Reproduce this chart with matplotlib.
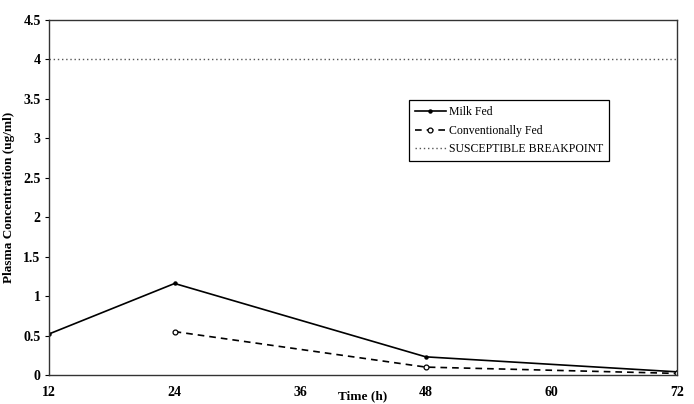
import matplotlib.pyplot as plt

# values
time_milk = [12, 24, 48, 72]
conc_milk = [0.52, 1.16, 0.23, 0.04]
time_conv = [24, 48, 72]
conc_conv = [0.55, 0.10, 0.02]
breakpoint_x = [12, 72]
breakpoint_y = [4, 4]
x_ticks = [12, 24, 36, 48, 60, 72]
y_ticks = [0, 0.5, 1, 1.5, 2, 2.5, 3, 3.5, 4, 4.5]

plt.rcParams["font.family"] = ["Liberation Serif", "DejaVu Serif"]

fig = plt.figure(figsize=(6.94, 4.04), dpi=100)
ax = fig.add_axes([0.0706, 0.0718, 0.9049, 0.8787])

ax.plot(time_milk, conc_milk, color="black", lw=1.2, marker="o", ms=2.2,
        mfc="black", label="Milk Fed")
ax.plot(time_conv, conc_conv, color="black", lw=1.2, ls=(0, (4, 3)), marker="o",
        ms=3.5, mfc="white", mew=0.9, label="Conventionally Fed")
ax.plot(breakpoint_x, breakpoint_y, color="#555555", lw=1.0, ls=(0, (1, 2)),
        label="SUSCEPTIBLE BREAKPOINT")

ax.set_xlim(12, 72)
ax.set_ylim(0, 4.5)
ax.set_xticks(x_ticks)
ax.set_yticks(y_ticks)
ax.set_xticklabels([str(t) for t in x_ticks], fontweight="bold", fontsize=10)
ax.set_yticklabels([f"{v:g}" for v in y_ticks], fontweight="bold", fontsize=10)
ax.tick_params(axis="x", length=0, pad=8)
ax.tick_params(axis="y", length=3, width=0.8, pad=3)

for s in ax.spines.values():
    s.set_color("#333333")
    s.set_linewidth(1.0)

ax.set_ylabel("Plasma Concentration (ug/ml)", fontweight="bold", fontsize=9.5, labelpad=6)
ax.set_xlabel("Time (h)", fontweight="bold", fontsize=9.5, labelpad=-6)

leg = ax.legend(loc="upper left", bbox_to_anchor=(0.564, 0.79), fontsize=8.5,
                frameon=True, fancybox=False, edgecolor="black", framealpha=1,
                handlelength=2.6, borderpad=0.5, labelspacing=0.55, handletextpad=0.3)
leg.get_frame().set_linewidth(0.9)

plt.savefig("out.png", dpi=100)
